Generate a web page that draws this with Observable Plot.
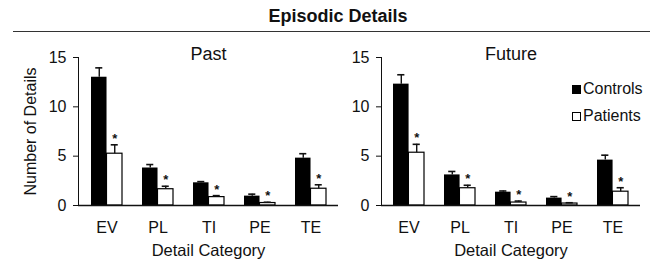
<!DOCTYPE html>
<html>
<head>
<meta charset="utf-8">
<script src="https://cdn.jsdelivr.net/npm/d3@7"></script>
<script src="https://cdn.jsdelivr.net/npm/@observablehq/plot@0.6"></script>
<style>
  body { margin: 0; background: white; }
  #wrap { position: relative; width: 650px; height: 261px; overflow: hidden; font-family: "Liberation Sans", Arial, sans-serif; }
  #wrap svg { position: absolute; top: 0; background: transparent; }
  #title { position: absolute; top: 6px; left: 0; width: 676px; text-align: center; font-weight: bold; font-size: 18px; color: #111; }
  #rule { position: absolute; top: 31px; left: 13px; width: 637px; border-top: 1.6px solid #333; }
  .lg { position: absolute; font-size: 16px; color: #111; }
  .sw { position: absolute; width: 7px; height: 7px; border: 1px solid #000; }
</style>
</head>
<body>
<div id="wrap"></div>
<script>
const categories = ["EV", "PL", "TI", "PE", "TE"];
const groups = ["Controls", "Patients"];
const pastControls     = [13.0, 3.8, 2.3, 0.95, 4.8];
const pastControlsErr  = [0.95, 0.35, 0.12, 0.2, 0.45];
const pastPatients     = [5.25, 1.65, 0.85, 0.25, 1.7];
const pastPatientsErr  = [0.9, 0.3, 0.15, 0.08, 0.4];
const futureControls    = [12.3, 3.1, 1.35, 0.75, 4.6];
const futureControlsErr = [0.95, 0.35, 0.12, 0.15, 0.5];
const futurePatients    = [5.35, 1.75, 0.3, 0.2, 1.4];
const futurePatientsErr = [0.85, 0.3, 0.15, 0.08, 0.4];
const yTicks = [0, 5, 10, 15];

const font = '"Liberation Sans", Arial, sans-serif';
const padInner = 0.4, padOuter = 0.22;

function rows(ctrl, ctrlErr, pat, patErr) {
  return categories.flatMap((c, i) => [
    {cat: c, group: groups[0], value: ctrl[i], top: ctrl[i] + ctrlErr[i]},
    {cat: c, group: groups[1], value: pat[i], top: pat[i] + patErr[i]}
  ]);
}

function panel(title, data, {width, marginLeft, marginRight, showYLabel}) {
  const plotW = width - marginLeft - marginRight;
  const n = categories.length;
  const step = plotW / (n - padInner + 2 * padOuter);
  const bw = step * (1 - padInner);
  const half = bw / 2;
  const cap = 3.5;
  const C = data.filter(d => d.group === "Controls");
  const P = data.filter(d => d.group === "Patients");
  const marks = [
    Plot.barY(C, {x: "cat", y: "value", fill: "black", insetRight: half}),
    Plot.barY(P, {x: "cat", y: "value", fill: "white", stroke: "black", strokeWidth: 1.2, insetLeft: half}),
    Plot.ruleX(C, {x: "cat", y1: "value", y2: "top", dx: -half / 2, stroke: "#111", strokeWidth: 1.4}),
    Plot.ruleX(P, {x: "cat", y1: "value", y2: "top", dx: half / 2, stroke: "#111", strokeWidth: 1.4}),
    Plot.tickY(C, {x: "cat", y: "top", insetLeft: half / 2 - cap, insetRight: bw - half / 2 - cap, stroke: "#111", strokeWidth: 1.6}),
    Plot.tickY(P, {x: "cat", y: "top", insetLeft: bw - half / 2 - cap, insetRight: half / 2 - cap, stroke: "#111", strokeWidth: 1.6}),
    Plot.text(P, {x: "cat", y: "top", text: () => "*", dx: half / 2, dy: -6, fontSize: 13, fontWeight: "bold", fill: "#111"}),
    Plot.ruleY([0], {stroke: "#111", strokeWidth: 1.4}),
    Plot.text([title], {frameAnchor: "top", lineAnchor: "middle", dy: -3, fontSize: 18, fill: "#111"}),
    Plot.text(["Detail Category"], {frameAnchor: "bottom", lineAnchor: "middle", dy: 45, fontSize: 16.5, fill: "#111"})
  ];
  if (showYLabel) {
    marks.push(Plot.text(["Number of Details"], {frameAnchor: "left", textAnchor: "middle", lineAnchor: "middle", rotate: -90, dx: -48, fontSize: 16, fill: "#111"}));
  }
  return Plot.plot({
    width, height: 261,
    marginLeft, marginRight, marginTop: 57, marginBottom: 56,
    style: {fontFamily: font, fontSize: "16px", color: "#111", background: "transparent", overflow: "visible"},
    x: {domain: categories, paddingInner: padInner, paddingOuter: padOuter, tickSize: 0, tickPadding: 16, label: null},
    y: {domain: [0, 15], ticks: yTicks, tickSize: 5, tickPadding: 7, label: null, line: true},
    marks
  });
}

const wrap = document.getElementById("wrap");
const left = panel("Past", rows(pastControls, pastControlsErr, pastPatients, pastPatientsErr),
  {width: 345, marginLeft: 78, marginRight: 7, showYLabel: true});
left.style.left = "0px";
const right = panel("Future", rows(futureControls, futureControlsErr, futurePatients, futurePatientsErr),
  {width: 305, marginLeft: 36, marginRight: 10, showYLabel: false});
right.style.left = "345px";
wrap.appendChild(left);
wrap.appendChild(right);

const title = document.createElement("div");
title.id = "title";
title.textContent = "Episodic Details";
wrap.appendChild(title);
const rule = document.createElement("div");
rule.id = "rule";
wrap.appendChild(rule);

const legendItems = [{label: groups[0], fill: "black", top: 80}, {label: groups[1], fill: "white", top: 107}];
for (const it of legendItems) {
  const sw = document.createElement("div");
  sw.className = "sw";
  sw.style.left = "572px";
  sw.style.top = (it.top + 5) + "px";
  sw.style.background = it.fill;
  wrap.appendChild(sw);
  const t = document.createElement("div");
  t.className = "lg";
  t.style.left = "583px";
  t.style.top = it.top + "px";
  t.textContent = it.label;
  wrap.appendChild(t);
}
</script>
</body>
</html>
